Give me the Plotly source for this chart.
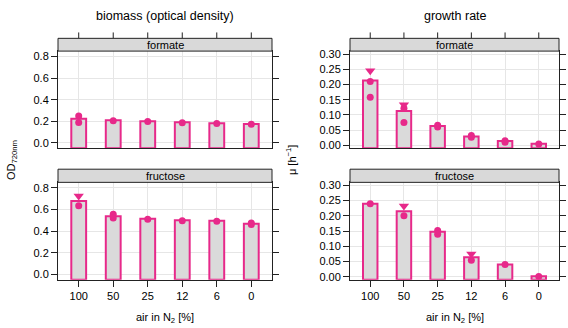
import plotly.graph_objects as go

# ---------------- data ----------------
categories = ["100", "50", "25", "12", "6", "0"]

# biomass (OD720nm) - formate
od_formate_bar = [0.224, 0.209, 0.200, 0.191, 0.182, 0.176]
od_formate_pts_x = ["100", "100", "50", "25", "12", "6", "0"]
od_formate_pts_y = [0.248, 0.188, 0.205, 0.197, 0.186, 0.179, 0.173]
od_formate_tri_x = []
od_formate_tri_y = []

# biomass (OD720nm) - fructose
od_fructose_bar = [0.679, 0.537, 0.513, 0.501, 0.495, 0.468]
od_fructose_pts_x = ["100", "50", "50", "25", "12", "6", "0", "0"]
od_fructose_pts_y = [0.634, 0.555, 0.522, 0.510, 0.495, 0.492, 0.474, 0.462]
od_fructose_tri_x = ["100"]
od_fructose_tri_y = [0.725]

# growth rate - formate
mu_formate_bar = [0.213, 0.1125, 0.063, 0.029, 0.014, 0.005]
mu_formate_pts_x = ["100", "100", "50", "50", "25", "25", "12", "12", "6", "6", "0"]
mu_formate_pts_y = [0.210, 0.158, 0.122, 0.075, 0.066, 0.060, 0.032, 0.026, 0.0145, 0.010, 0.004]
mu_formate_tri_x = ["100", "50"]
mu_formate_tri_y = [0.245, 0.133]

# growth rate - fructose
mu_fructose_bar = [0.240, 0.215, 0.148, 0.064, 0.040, 0.002]
mu_fructose_pts_x = ["100", "50", "25", "25", "12", "6", "0"]
mu_fructose_pts_y = [0.240, 0.200, 0.152, 0.140, 0.054, 0.040, 0.001]
mu_fructose_tri_x = ["50", "12"]
mu_fructose_tri_y = [0.232, 0.075]

# ---------------- styling / layout ----------------
W, H = 568, 328
MAGENTA = "#e7298a"
BARFILL = "#dadada"
BOX = "#222222"
GRID = "#e6e6e6"
FONT = "Liberation Sans, Arial, sans-serif"


def px(x):
    return x / W


def py(y):
    return 1 - y / H


panels = [
    dict(ax="", bars=od_formate_bar, px_=od_formate_pts_x, py_=od_formate_pts_y,
         tx=od_formate_tri_x, ty=od_formate_tri_y, xd=(58, 272), yd=(49, 148),
         strip=(36, 49), label="formate", yr=(-0.05, 0.85), dt=0.2, fmt=".1f", top=True),
    dict(ax="2", bars=mu_formate_bar, px_=mu_formate_pts_x, py_=mu_formate_pts_y,
         tx=mu_formate_tri_x, ty=mu_formate_tri_y, xd=(350, 559), yd=(49, 148),
         strip=(36, 49), label="formate", yr=(-0.01, 0.31), dt=0.05, fmt=".2f", top=True),
    dict(ax="3", bars=od_fructose_bar, px_=od_fructose_pts_x, py_=od_fructose_pts_y,
         tx=od_fructose_tri_x, ty=od_fructose_tri_y, xd=(58, 272), yd=(182.7, 282),
         strip=(169.3, 182.7), label="fructose", yr=(-0.05, 0.85), dt=0.2, fmt=".1f", top=False),
    dict(ax="4", bars=mu_fructose_bar, px_=mu_fructose_pts_x, py_=mu_fructose_pts_y,
         tx=mu_fructose_tri_x, ty=mu_fructose_tri_y, xd=(350, 559), yd=(182.7, 282),
         strip=(169.3, 182.7), label="fructose", yr=(-0.01, 0.31), dt=0.05, fmt=".2f", top=False),
]

fig = go.Figure()
layout = dict(
    width=W, height=H, margin=dict(l=0, r=0, t=0, b=0),
    paper_bgcolor="white", plot_bgcolor="white", showlegend=False,
    font=dict(family=FONT, size=11, color="black"),
    barmode="overlay",
)
shapes = []
annotations = []
xr = [-0.6, len(categories) - 0.4]

for p in panels:
    a = p["ax"]
    xref = "x" + a
    yref = "y" + a
    ylo = p["yr"][0]
    fig.add_trace(go.Bar(
        x=categories, y=[v - ylo for v in p["bars"]], base=ylo, width=0.43,
        marker=dict(color=BARFILL, line=dict(color=MAGENTA, width=2)),
        xaxis=xref, yaxis=yref, hoverinfo="skip"))
    fig.add_trace(go.Scatter(
        x=p["px_"], y=p["py_"], mode="markers",
        marker=dict(symbol="circle", size=7, color=MAGENTA),
        xaxis=xref, yaxis=yref))
    fig.add_trace(go.Scatter(
        x=p["tx"], y=p["ty"], mode="markers",
        marker=dict(symbol="triangle-down", size=9, color=MAGENTA),
        xaxis=xref, yaxis=yref))

    xdom = [px(p["xd"][0]), px(p["xd"][1])]
    ydom = [py(p["yd"][1]), py(p["yd"][0])]
    layout["xaxis" + a] = dict(
        domain=xdom, anchor=yref, type="category", categoryorder="array",
        categoryarray=categories, range=xr, showline=True, mirror=True,
        linecolor=BOX, linewidth=1, showgrid=True, gridcolor=GRID, zeroline=False,
        ticks="" if p["top"] else "outside", ticklen=6, tickcolor=BOX,
        showticklabels=not p["top"], fixedrange=True)
    layout["yaxis" + a] = dict(
        domain=ydom, anchor=xref, range=list(p["yr"]), dtick=p["dt"], tick0=0,
        tickformat=p["fmt"], showline=True, mirror="ticks", linecolor=BOX,
        linewidth=1, ticks="outside", ticklen=6, tickcolor=BOX, showgrid=True,
        gridcolor=GRID, zeroline=False, fixedrange=True)

    # top-axis ticks above the strip (top row only): axis decoration, mapped
    # from the category index through the same x range as the panel axis
    if p["top"]:
        for i in range(len(categories)):
            xt = xdom[0] + (i - xr[0]) / (xr[1] - xr[0]) * (xdom[1] - xdom[0])
            shapes.append(dict(type="line", xref="paper", yref="paper", x0=xt, x1=xt,
                               y0=py(p["strip"][0]), y1=py(p["strip"][0] - 6),
                               line=dict(color=BOX, width=1)))

    # strip
    shapes.append(dict(type="rect", xref="paper", yref="paper",
                       x0=xdom[0], x1=xdom[1], y0=py(p["strip"][1]), y1=py(p["strip"][0]),
                       fillcolor="#d9d9d9", line=dict(color=BOX, width=1), layer="above"))
    annotations.append(dict(text=p["label"], xref="paper", yref="paper",
                            x=(xdom[0] + xdom[1]) / 2,
                            y=py((p["strip"][0] + p["strip"][1]) / 2),
                            showarrow=False, font=dict(size=11), xanchor="center", yanchor="middle"))

# titles
annotations += [
    dict(text="biomass (optical density)", x=px(165), y=py(13), xref="paper", yref="paper",
         showarrow=False, font=dict(size=12.5), xanchor="center", yanchor="middle"),
    dict(text="growth rate", x=px(455), y=py(13), xref="paper", yref="paper",
         showarrow=False, font=dict(size=12.5), xanchor="center", yanchor="middle"),
    dict(text="air in N<sub>2</sub> [%]", x=px(165), y=py(321), xref="paper", yref="paper",
         showarrow=False, font=dict(size=11), xanchor="center", yanchor="middle"),
    dict(text="air in N<sub>2</sub> [%]", x=px(455), y=py(321), xref="paper", yref="paper",
         showarrow=False, font=dict(size=11), xanchor="center", yanchor="middle"),
    dict(text="OD<sub>720nm</sub>", x=px(12), y=py(160), xref="paper", yref="paper",
         showarrow=False, font=dict(size=11), textangle=-90, xanchor="center", yanchor="middle"),
    dict(text="μ [h<sup>−1</sup>]", x=px(291), y=py(160), xref="paper", yref="paper",
         showarrow=False, font=dict(size=11), textangle=-90, xanchor="center", yanchor="middle"),
]

layout["shapes"] = shapes
layout["annotations"] = annotations
fig.update_layout(**layout)
fig.write_html("out.html", config={"displayModeBar": False},
               post_script="document.body.style.margin='0';")
